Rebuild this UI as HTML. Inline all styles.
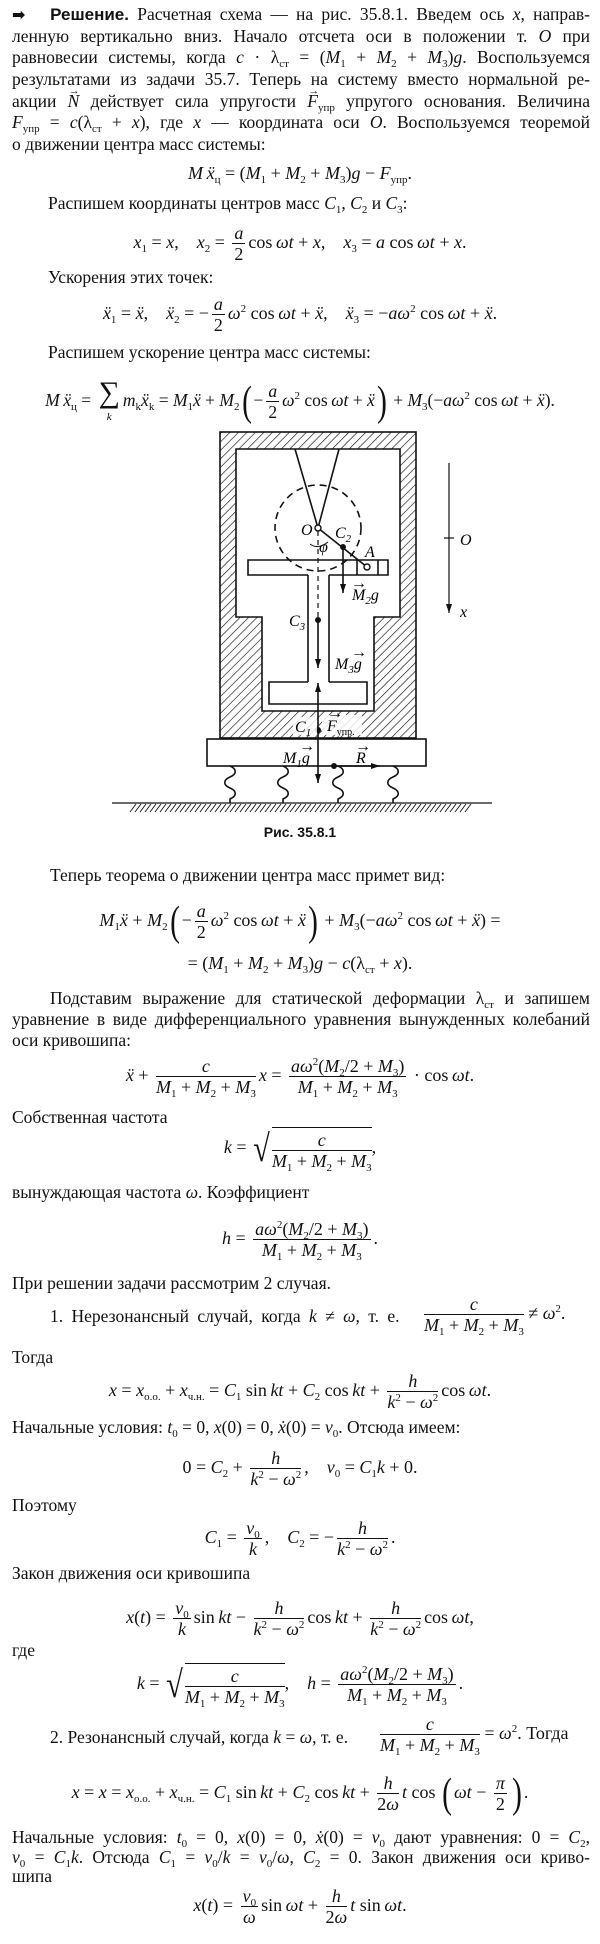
<!DOCTYPE html>
<html><head><meta charset="utf-8">
<style>
body{margin:0;background:#fff;}
#p{position:relative;width:600px;height:1944px;overflow:hidden;background:#fff;color:#111;font-family:"Liberation Serif",serif;font-size:17.5px;}
.l{position:absolute;left:12px;width:578px;height:22px;line-height:22px;white-space:nowrap;}
.j{text-align:justify;text-align-last:justify;white-space:normal;}
.eq{position:absolute;left:0;width:600px;height:56px;line-height:56px;text-align:center;white-space:nowrap;font-size:18px;}
i{font-style:italic;}
sub{font-size:11px;vertical-align:-4px;line-height:0;font-style:normal;}
sup{font-size:11px;vertical-align:7px;line-height:0;}
.fr{display:inline-flex;flex-direction:column;align-items:center;vertical-align:middle;margin:0 3px;line-height:20px;}
.fr>span{white-space:nowrap;}
.fr>span:first-child{border-bottom:1px solid #111;padding:0 2px;width:100%;text-align:center;box-sizing:border-box;}
.v{position:relative;display:inline-block;}
.v::after{content:"→";position:absolute;left:1px;top:-10px;font-size:11px;font-style:normal;}
.bp{font-size:42px;line-height:40px;transform:scaleX(.7);display:inline-block;vertical-align:middle;font-weight:200;}
.sq{display:inline-flex;align-items:center;vertical-align:middle;line-height:20px;}
.sq .r{font-size:38px;line-height:40px;transform:scaleX(.8);display:inline-block;}
.sq .o{border-top:1px solid #111;padding-top:2px;}
.sum{display:inline-flex;flex-direction:column;align-items:center;vertical-align:middle;line-height:18px;margin:0 3px;}
.sum b{font-size:30px;font-weight:normal;line-height:30px;}
.sum small{font-size:11px;font-style:italic;}
svg text{font-family:"Liberation Serif",serif;font-style:italic;font-size:16px;}
</style></head><body><div id="p">

<div class="l j" style="top:3px"><span style="font-family:'DejaVu Sans';font-weight:bold;font-size:16px">➡</span>&nbsp;&nbsp;&nbsp;<b style="font-family:'Liberation Sans',sans-serif;font-size:17px">Решение.</b> Расчетная схема — на рис. 35.8.1. Введем ось <i>x</i>, направ-</div>
<div class="l j" style="top:25px">ленную вертикально вниз. Начало отсчета оси в положении т. <i>O</i> при</div>
<div class="l j" style="top:46px">равновесии системы, когда <i>c</i> · λ<sub>ст</sub> = (<i>M</i><sub>1</sub> + <i>M</i><sub>2</sub> + <i>M</i><sub>3</sub>)<i>g</i>. Воспользуемся</div>
<div class="l j" style="top:68px">результатами из задачи 35.7. Теперь на систему вместо нормальной ре-</div>
<div class="l j" style="top:90px">акции <i class="v">N</i> действует сила упругости <i class="v">F</i><sub>упр</sub> упругого основания. Величина</div>
<div class="l j" style="top:111px"><i>F</i><sub>упр</sub> = <i>c</i>(λ<sub>ст</sub> + <i>x</i>), где <i>x</i> — координата оси <i>O</i>. Воспользуемся теоремой</div>
<div class="l" style="top:133px">о движении центра масс системы:</div>

<div class="eq" style="top:145px"><i>M</i>&thinsp;<i>ẍ</i><sub>ц</sub>&nbsp;= (<i>M</i><sub>1</sub> + <i>M</i><sub>2</sub> + <i>M</i><sub>3</sub>)<i>g</i> − <i>F</i><sub>упр</sub>.</div>
<div class="l" style="top:192px;left:48px">Распишем координаты центров масс <i>C</i><sub>1</sub>, <i>C</i><sub>2</sub> и <i>C</i><sub>3</sub>:</div>
<div class="eq" style="top:214px"><i>x</i><sub>1</sub> = <i>x</i>,&nbsp;&nbsp;&nbsp; <i>x</i><sub>2</sub> = <span class="fr"><span><i>a</i></span><span>2</span></span>cos&thinsp;<i>ωt</i> + <i>x</i>,&nbsp;&nbsp;&nbsp; <i>x</i><sub>3</sub> = <i>a</i> cos&thinsp;<i>ωt</i> + <i>x</i>.</div>
<div class="l" style="top:266px;left:48px">Ускорения этих точек:</div>
<div class="eq" style="top:285px"><i>ẍ</i><sub>1</sub> = <i>ẍ</i>,&nbsp;&nbsp;&nbsp; <i>ẍ</i><sub>2</sub> = −<span class="fr"><span><i>a</i></span><span>2</span></span><i>ω</i><sup>2</sup> cos&thinsp;<i>ωt</i> + <i>ẍ</i>,&nbsp;&nbsp;&nbsp; <i>ẍ</i><sub>3</sub> = −<i>aω</i><sup>2</sup> cos&thinsp;<i>ωt</i> + <i>ẍ</i>.</div>
<div class="l" style="top:341px;left:48px">Распишем ускорение центра масс системы:</div>
<div class="eq" style="top:372px;font-size:17.5px"><i>M</i>&thinsp;<i>ẍ</i><sub>ц</sub>&nbsp;= <span class="sum"><b>∑</b><small>k</small></span><i>m<sub>k</sub>ẍ<sub>k</sub></i> = <i>M</i><sub>1</sub><i>ẍ</i> + <i>M</i><sub>2</sub><span class="bp">(</span>−<span class="fr"><span><i>a</i></span><span>2</span></span><i>ω</i><sup>2</sup> cos&thinsp;<i>ωt</i> + <i>ẍ</i><span class="bp">)</span> + <i>M</i><sub>3</sub>(−<i>aω</i><sup>2</sup> cos&thinsp;<i>ωt</i> + <i>ẍ</i>).</div>

<svg style="position:absolute;left:0;top:0" width="600" height="830" viewBox="0 0 600 830">
<defs>
<pattern id="h" width="6" height="6" patternUnits="userSpaceOnUse" patternTransform="rotate(45)"><line x1="0" y1="0" x2="0" y2="6" stroke="#111" stroke-width="1.3"/></pattern>
<marker id="ar" markerWidth="10" markerHeight="8" refX="9" refY="4" orient="auto" markerUnits="userSpaceOnUse"><path d="M0,1 L9,4 L0,7 Z" fill="#111"/></marker>
</defs>
<g stroke="#111" stroke-width="1.6" fill="none">
<rect x="220" y="432" width="196" height="306" fill="url(#h)"/>
<polygon points="236,449 400,449 400,617 374,617 374,711 262,711 262,617 236,617" fill="#fff"/>
<rect x="207" y="739" width="219" height="27" fill="#fff"/>
<path d="M230 766 c7 3 7 8 0 11 c-7 3 -7 8 0 11 c7 3 7 8 0 11 l0 4"/>
<path d="M283 766 c7 3 7 8 0 11 c-7 3 -7 8 0 11 c7 3 7 8 0 11 l0 4"/>
<path d="M338 766 c7 3 7 8 0 11 c-7 3 -7 8 0 11 c7 3 7 8 0 11 l0 4"/>
<path d="M393 766 c7 3 7 8 0 11 c-7 3 -7 8 0 11 c7 3 7 8 0 11 l0 4"/>
<line x1="112" y1="803" x2="492" y2="803" stroke-width="1.2"/>
<path stroke-width="0.9" d="M130 812 l6 -8 M135 812 l6 -8 M140 812 l6 -8 M145 812 l6 -8 M150 812 l6 -8 M155 812 l6 -8 M160 812 l6 -8 M165 812 l6 -8 M170 812 l6 -8 M175 812 l6 -8 M180 812 l6 -8 M185 812 l6 -8 M190 812 l6 -8 M195 812 l6 -8 M200 812 l6 -8 M205 812 l6 -8 M210 812 l6 -8 M215 812 l6 -8 M220 812 l6 -8 M225 812 l6 -8 M230 812 l6 -8 M235 812 l6 -8 M240 812 l6 -8 M245 812 l6 -8 M250 812 l6 -8 M255 812 l6 -8 M260 812 l6 -8 M265 812 l6 -8 M270 812 l6 -8 M275 812 l6 -8 M280 812 l6 -8 M285 812 l6 -8 M290 812 l6 -8 M295 812 l6 -8 M300 812 l6 -8 M305 812 l6 -8 M310 812 l6 -8 M315 812 l6 -8 M320 812 l6 -8 M325 812 l6 -8 M330 812 l6 -8 M335 812 l6 -8 M340 812 l6 -8 M345 812 l6 -8 M350 812 l6 -8 M355 812 l6 -8 M360 812 l6 -8 M365 812 l6 -8 M370 812 l6 -8 M375 812 l6 -8 M380 812 l6 -8 M385 812 l6 -8 M390 812 l6 -8 M395 812 l6 -8 M400 812 l6 -8 M405 812 l6 -8 M410 812 l6 -8 M415 812 l6 -8 M420 812 l6 -8 M425 812 l6 -8 M430 812 l6 -8 M435 812 l6 -8 M440 812 l6 -8 M445 812 l6 -8 M450 812 l6 -8 M455 812 l6 -8 M460 812 l6 -8 M465 812 l6 -8"/>
<path d="M308 575 L248 575 L248 560 L388 560 L388 575 L329 575" fill="#fff"/>
<line x1="357" y1="560" x2="357" y2="575"/><line x1="378" y1="560" x2="378" y2="575"/>
<line x1="308" y1="575" x2="308" y2="682"/><line x1="329" y1="575" x2="329" y2="682"/>
<path d="M308 682 L269 682 L269 704 L367 704 L367 682 L329 682"/>
<line x1="295" y1="449" x2="318" y2="528"/><line x1="339" y1="449" x2="318" y2="528"/>
<circle cx="318" cy="528" r="43" stroke-dasharray="7 5"/>
<line x1="318" y1="528" x2="367" y2="567"/>
<line x1="318" y1="531" x2="318" y2="620" stroke-dasharray="5 4" stroke-width="1.2"/>
<path d="M310 544 q8 6 18 -2" stroke-width="1"/>
<line x1="343" y1="547" x2="343" y2="593" marker-end="url(#ar)"/>
<line x1="318" y1="620" x2="318" y2="668" marker-end="url(#ar)"/>
<line x1="318" y1="730" x2="318" y2="683" marker-end="url(#ar)"/>
<line x1="318" y1="730" x2="318" y2="783" marker-end="url(#ar)"/>
<line x1="334" y1="766" x2="380" y2="766" marker-end="url(#ar)"/>
<line x1="449" y1="463" x2="449" y2="613" stroke-width="1.2" marker-end="url(#ar)"/>
<line x1="444" y1="538" x2="454" y2="538" stroke-width="1.2"/>
</g>
<circle cx="318" cy="528" r="3" fill="#fff" stroke="#111" stroke-width="1.4"/>
<circle cx="367" cy="567" r="3" fill="#fff" stroke="#111" stroke-width="1.4"/>
<circle cx="343" cy="547" r="3" fill="#111"/>
<circle cx="318" cy="620" r="3" fill="#111"/>
<circle cx="318" cy="730" r="3" fill="#111"/>
<circle cx="334" cy="766" r="3" fill="#111"/>
<rect x="293" y="717" width="24" height="18" fill="#fff" opacity="0.85"/>
<rect x="322" y="715" width="40" height="20" fill="#fff" opacity="0.85"/>
<text x="301" y="535">O</text>
<text x="335" y="538">C<tspan font-size="11" dy="4">2</tspan></text>
<text x="319" y="552" font-size="13">φ</text>
<text x="365" y="557">A</text>
<text x="352" y="600">M<tspan font-size="11" dy="4">2</tspan><tspan dy="-4">g</tspan></text>
<text x="351" y="588" font-size="10" font-style="normal">→</text>
<text x="289" y="626">C<tspan font-size="11" dy="4">3</tspan></text>
<text x="335" y="669">M<tspan font-size="11" dy="4">3</tspan><tspan dy="-4">g</tspan></text>
<text x="351" y="657" font-size="10" font-style="normal">→</text>
<text x="295" y="732">C<tspan font-size="11" dy="4">1</tspan></text>
<text x="327" y="731">F<tspan font-size="10" dy="4" font-style="normal">упр.</tspan></text>
<text x="327" y="718" font-size="10" font-style="normal">→</text>
<text x="283" y="763">M<tspan font-size="11" dy="4">1</tspan><tspan dy="-4">g</tspan></text>
<text x="299" y="751" font-size="10" font-style="normal">→</text>
<text x="356" y="763">R</text>
<text x="355" y="751" font-size="10" font-style="normal">→</text>
<text x="460" y="545">O</text>
<text x="460" y="617">x</text>
</svg>

<div style="position:absolute;left:0;top:824px;width:600px;text-align:center;font:bold 14px 'Liberation Sans',sans-serif;line-height:16px">Рис. 35.8.1</div>

<div class="l" style="top:864px;left:50px">Теперь теорема о движении центра масс примет вид:</div>
<div class="eq" style="top:892px"><i>M</i><sub>1</sub><i>ẍ</i> + <i>M</i><sub>2</sub><span class="bp">(</span>−<span class="fr"><span><i>a</i></span><span>2</span></span><i>ω</i><sup>2</sup> cos&thinsp;<i>ωt</i> + <i>ẍ</i><span class="bp">)</span> + <i>M</i><sub>3</sub>(−<i>aω</i><sup>2</sup> cos&thinsp;<i>ωt</i> + <i>ẍ</i>) =</div>
<div class="eq" style="top:935px">= (<i>M</i><sub>1</sub> + <i>M</i><sub>2</sub> + <i>M</i><sub>3</sub>)<i>g</i> − <i>c</i>(λ<sub>ст</sub> + <i>x</i>).</div>
<div class="l j" style="top:987px;left:50px;width:540px">Подставим выражение для статической деформации λ<sub>ст</sub> и запишем</div>
<div class="l j" style="top:1008px">уравнение в виде дифференциального уравнения вынужденных колебаний</div>
<div class="l" style="top:1029px">оси кривошипа:</div>
<div class="eq" style="top:1047px"><i>ẍ</i> + <span class="fr"><span><i>c</i></span><span><i>M</i><sub>1</sub> + <i>M</i><sub>2</sub> + <i>M</i><sub>3</sub></span></span><i>x</i> = <span class="fr"><span><i>aω</i><sup>2</sup>(<i>M</i><sub>2</sub>/2 + <i>M</i><sub>3</sub>)</span><span><i>M</i><sub>1</sub> + <i>M</i><sub>2</sub> + <i>M</i><sub>3</sub></span></span> · cos&thinsp;<i>ωt</i>.</div>
<div class="l" style="top:1106px">Собственная частота</div>
<div class="eq" style="top:1119px"><i>k</i>&nbsp;=&nbsp;<span class="sq"><span class="r">√</span><span class="o"><span class="fr" style="margin:0"><span><i>c</i></span><span><i>M</i><sub>1</sub> + <i>M</i><sub>2</sub> + <i>M</i><sub>3</sub></span></span></span></span>,</div>
<div class="l" style="top:1181px">вынуждающая частота <i>ω</i>. Коэффициент</div>
<div class="eq" style="top:1210px"><i>h</i> = <span class="fr"><span><i>aω</i><sup>2</sup>(<i>M</i><sub>2</sub>/2 + <i>M</i><sub>3</sub>)</span><span><i>M</i><sub>1</sub> + <i>M</i><sub>2</sub> + <i>M</i><sub>3</sub></span></span>.</div>
<div class="l" style="top:1272px">При решении задачи рассмотрим 2 случая.</div>
<div class="l" style="top:1305px;left:50px;width:380px;word-spacing:4px">1. Нерезонансный случай, когда <i>k</i> ≠ <i>ω</i>, т. е.</div>
<div style="position:absolute;left:424px;top:1292px;font-size:18px;white-space:nowrap;line-height:42px;height:42px"><span class="fr" style="margin:0"><span><i>c</i></span><span><i>M</i><sub>1</sub> + <i>M</i><sub>2</sub> + <i>M</i><sub>3</sub></span></span>&nbsp;≠ <i>ω</i><sup>2</sup>.</div>
<div class="l" style="top:1346px">Тогда</div>
<div class="eq" style="top:1362px"><i>x</i> = <i>x</i><sub>о.о.</sub> + <i>x</i><sub>ч.н.</sub> = <i>C</i><sub>1</sub> sin&thinsp;<i>kt</i> + <i>C</i><sub>2</sub> cos&thinsp;<i>kt</i> + <span class="fr"><span><i>h</i></span><span><i>k</i><sup>2</sup> − <i>ω</i><sup>2</sup></span></span>cos&thinsp;<i>ωt</i>.</div>
<div class="l" style="top:1416px">Начальные условия: <i>t</i><sub>0</sub> = 0, <i>x</i>(0) = 0, <i>ẋ</i>(0) = <i>v</i><sub>0</sub>. Отсюда имеем:</div>
<div class="eq" style="top:1439px">0 = <i>C</i><sub>2</sub> + <span class="fr"><span><i>h</i></span><span><i>k</i><sup>2</sup> − <i>ω</i><sup>2</sup></span></span>,&nbsp;&nbsp;&nbsp; <i>v</i><sub>0</sub> = <i>C</i><sub>1</sub><i>k</i> + 0.</div>
<div class="l" style="top:1494px">Поэтому</div>
<div class="eq" style="top:1509px"><i>C</i><sub>1</sub> = <span class="fr"><span><i>v</i><sub>0</sub></span><span><i>k</i></span></span>,&nbsp;&nbsp;&nbsp; <i>C</i><sub>2</sub> = −<span class="fr"><span><i>h</i></span><span><i>k</i><sup>2</sup> − <i>ω</i><sup>2</sup></span></span>.</div>
<div class="l" style="top:1562px">Закон движения оси кривошипа</div>
<div class="eq" style="top:1589px"><i>x</i>(<i>t</i>) = <span class="fr"><span><i>v</i><sub>0</sub></span><span><i>k</i></span></span>sin&thinsp;<i>kt</i> − <span class="fr"><span><i>h</i></span><span><i>k</i><sup>2</sup> − <i>ω</i><sup>2</sup></span></span>cos&thinsp;<i>kt</i> + <span class="fr"><span><i>h</i></span><span><i>k</i><sup>2</sup> − <i>ω</i><sup>2</sup></span></span>cos&thinsp;<i>ωt</i>,</div>
<div class="l" style="top:1639px">где</div>
<div class="eq" style="top:1655px"><i>k</i>&nbsp;=&nbsp;<span class="sq"><span class="r">√</span><span class="o"><span class="fr" style="margin:0"><span><i>c</i></span><span><i>M</i><sub>1</sub> + <i>M</i><sub>2</sub> + <i>M</i><sub>3</sub></span></span></span></span>,&nbsp;&nbsp;&nbsp; <i>h</i> = <span class="fr"><span><i>aω</i><sup>2</sup>(<i>M</i><sub>2</sub>/2 + <i>M</i><sub>3</sub>)</span><span><i>M</i><sub>1</sub> + <i>M</i><sub>2</sub> + <i>M</i><sub>3</sub></span></span>.</div>
<div class="l" style="top:1726px;left:50px">2. Резонансный случай, когда <i>k</i> = <i>ω</i>, т. е.</div>
<div style="position:absolute;left:380px;top:1712px;font-size:18px;white-space:nowrap;line-height:42px;height:42px"><span class="fr" style="margin:0"><span><i>c</i></span><span><i>M</i><sub>1</sub> + <i>M</i><sub>2</sub> + <i>M</i><sub>3</sub></span></span>&nbsp;= <i>ω</i><sup>2</sup>. Тогда</div>
<div class="eq" style="top:1764px"><i>x</i> = <i>x</i> = <i>x</i><sub>о.о.</sub> + <i>x</i><sub>ч.н.</sub> = <i>C</i><sub>1</sub> sin&thinsp;<i>kt</i> + <i>C</i><sub>2</sub> cos&thinsp;<i>kt</i> + <span class="fr"><span><i>h</i></span><span>2<i>ω</i></span></span><i>t</i> cos <span class="bp">(</span><i>ωt</i> − <span class="fr"><span><i>π</i></span><span>2</span></span><span class="bp">)</span>.</div>
<div class="l j" style="top:1826px">Начальные условия: <i>t</i><sub>0</sub> = 0, <i>x</i>(0) = 0, <i>ẋ</i>(0) = <i>v</i><sub>0</sub> дают уравнения: 0 = <i>C</i><sub>2</sub>,</div>
<div class="l j" style="top:1846px"><i>v</i><sub>0</sub> = <i>C</i><sub>1</sub><i>k</i>. Отсюда <i>C</i><sub>1</sub> = <i>v</i><sub>0</sub>/<i>k</i> = <i>v</i><sub>0</sub>/<i>ω</i>, <i>C</i><sub>2</sub> = 0. Закон движения оси криво-</div>
<div class="l" style="top:1865px">шипа</div>
<div class="eq" style="top:1877px"><i>x</i>(<i>t</i>) = <span class="fr"><span><i>v</i><sub>0</sub></span><span><i>ω</i></span></span>sin&thinsp;<i>ωt</i> + <span class="fr"><span><i>h</i></span><span>2<i>ω</i></span></span><i>t</i> sin&thinsp;<i>ωt</i>.</div>

</div></body></html>
